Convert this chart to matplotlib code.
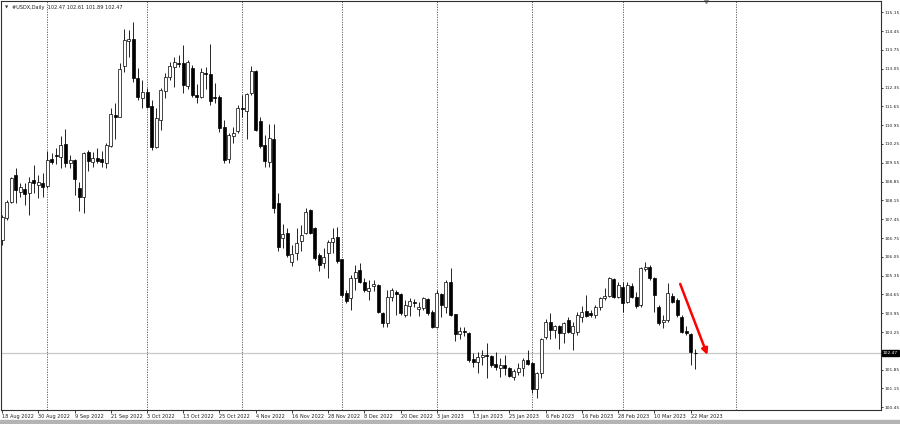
import matplotlib
matplotlib.use("Agg")
import matplotlib.pyplot as plt
from matplotlib.patches import Rectangle
from matplotlib.transforms import blended_transform_factory

# daily OHLC of #USDX, 18 Aug 2022 .. 23 Mar 2023 (one value per bar)
opens = [106.68, 107.48, 108.10, 109.09, 108.47, 108.57, 108.41, 108.91, 108.73, 108.81,
         108.70, 109.68, 109.84, 109.78, 110.24, 109.53, 109.65, 108.60, 108.29, 109.94,
         109.59, 109.71, 109.68, 109.55, 110.17, 111.33, 111.24, 113.15, 114.10, 114.14,
         112.72, 111.95, 112.20, 111.66, 110.15, 111.16, 112.23, 112.75, 113.13, 113.28,
         113.25, 112.42, 113.06, 112.07, 112.01, 112.88, 112.85, 112.01, 112.01, 110.89,
         109.68, 110.55, 110.73, 111.59, 111.49, 112.16, 112.98, 111.12, 110.21, 109.59,
         110.43, 108.04, 106.74, 106.95, 105.87, 106.20, 106.65, 106.92, 107.79, 107.11,
         106.12, 105.83, 106.20, 106.61, 106.80, 105.96, 104.69, 104.50, 105.25, 105.56,
         105.13, 104.78, 104.98, 105.00, 103.97, 103.60, 104.54, 104.73, 104.66, 103.89,
         104.22, 104.36, 104.10, 104.13, 104.47, 104.01, 103.45, 104.65, 104.19, 105.10,
         103.91, 103.17, 103.30, 103.23, 102.26, 102.15, 102.31, 102.38, 102.36, 102.06,
         101.90, 102.02, 101.92, 101.59, 101.78, 101.90, 102.21, 102.09, 101.12, 101.71,
         103.05, 103.64, 103.33, 103.48, 103.20, 103.70, 103.23, 103.26, 103.82, 104.03,
         103.95, 103.88, 104.17, 104.50, 104.59, 105.21, 104.57, 104.94, 104.38, 104.96,
         104.57, 104.26, 105.58, 105.68, 105.25, 104.17, 103.62, 103.70, 104.59, 104.44,
         103.82, 103.30, 103.18, 102.47]
highs = [107.61, 108.16, 109.03, 109.34, 108.78, 108.78, 109.03, 109.47, 109.10, 109.18,
         110.00, 109.93, 110.09, 110.55, 110.79, 109.84, 109.70, 108.82, 109.96, 110.03,
         109.96, 110.09, 109.99, 110.27, 111.58, 111.79, 113.28, 114.52, 114.50, 114.80,
         113.06, 112.63, 112.32, 111.89, 111.58, 112.32, 112.88, 113.29, 113.50, 113.56,
         113.93, 113.37, 113.19, 112.50, 113.06, 113.10, 113.97, 112.53, 112.07, 111.14,
         110.65, 110.89, 111.70, 112.07, 112.16, 113.15, 113.00, 111.27, 110.58, 110.99,
         110.99, 108.41, 107.27, 107.11, 106.49, 107.11, 107.23, 107.88, 107.82, 107.15,
         106.18, 106.37, 106.68, 107.11, 107.17, 105.98, 104.82, 105.37, 105.75, 105.81,
         105.25, 105.19, 105.20, 105.04, 104.01, 104.82, 104.88, 104.82, 104.69, 104.44,
         104.50, 104.48, 104.38, 104.54, 104.50, 104.07, 104.82, 104.69, 105.19, 105.62,
         103.93, 103.45, 103.45, 103.26, 102.46, 102.52, 102.58, 102.85, 102.40, 102.52,
         102.27, 102.40, 101.96, 101.86, 102.09, 102.27, 102.58, 102.15, 101.77, 103.02,
         103.72, 103.95, 103.51, 103.51, 103.64, 103.82, 103.64, 104.01, 104.22, 104.63,
         104.07, 104.26, 104.57, 104.88, 105.31, 105.25, 105.13, 105.13, 105.13, 105.06,
         104.75, 105.68, 105.87, 105.75, 105.31, 104.26, 103.90, 105.06, 104.69, 104.50,
         103.88, 103.48, 103.20, 102.61]
lows = [106.49, 107.42, 108.04, 108.04, 108.28, 107.98, 107.61, 108.41, 108.25, 108.29,
        108.60, 109.49, 109.50, 109.37, 109.40, 109.34, 108.35, 107.77, 107.67, 109.26,
        109.40, 109.55, 109.40, 109.34, 110.15, 110.43, 111.24, 112.94, 113.50, 112.57,
        111.89, 111.58, 111.58, 110.03, 110.09, 110.77, 111.95, 112.63, 112.38, 113.13,
        112.16, 112.30, 111.99, 111.76, 111.95, 112.30, 111.69, 111.76, 110.71, 109.53,
        109.53, 110.27, 110.65, 111.27, 110.42, 112.07, 110.74, 110.09, 109.40, 109.38,
        107.69, 106.28, 106.37, 106.03, 105.71, 105.93, 106.28, 106.90, 106.90, 105.93,
        105.53, 105.62, 105.25, 106.18, 105.81, 104.54, 104.32, 104.07, 104.82, 105.09,
        104.75, 104.44, 104.79, 103.95, 103.45, 103.45, 104.42, 103.89, 103.89, 103.80,
        103.85, 104.17, 103.85, 104.07, 103.89, 103.39, 103.39, 103.82, 103.95, 103.85,
        102.93, 102.98, 103.10, 102.15, 101.96, 101.74, 102.02, 101.53, 101.96, 101.84,
        101.59, 101.65, 101.57, 101.47, 101.65, 101.61, 102.02, 100.99, 100.78, 101.53,
        102.98, 102.98, 103.02, 102.61, 102.83, 103.20, 102.58, 103.14, 103.64, 103.82,
        103.82, 103.76, 104.07, 104.44, 104.57, 104.50, 104.50, 104.01, 104.32, 104.50,
        104.13, 104.19, 105.53, 105.19, 104.01, 103.51, 103.40, 103.62, 104.32, 103.82,
        103.23, 103.14, 102.02, 101.89]
closes = [107.54, 108.10, 108.97, 108.54, 108.63, 108.39, 108.85, 108.78, 108.83, 108.66,
          109.65, 109.59, 109.80, 110.21, 109.55, 109.65, 108.93, 108.29, 109.93, 109.62,
          109.74, 109.63, 109.59, 110.21, 111.36, 111.27, 113.03, 114.12, 114.14, 112.69,
          111.98, 112.20, 111.64, 110.15, 111.20, 112.26, 112.75, 113.16, 113.31, 113.24,
          112.44, 113.29, 112.07, 112.01, 112.94, 112.84, 111.86, 111.95, 110.83, 109.65,
          110.58, 110.65, 111.60, 111.54, 112.11, 112.98, 110.77, 110.17, 109.63, 110.46,
          107.85, 106.40, 106.90, 106.12, 106.15, 106.58, 106.86, 107.73, 106.92, 105.99,
          105.75, 106.06, 106.61, 106.74, 105.91, 104.63, 104.42, 105.25, 105.50, 105.13,
          104.82, 104.90, 105.02, 104.01, 103.60, 104.57, 104.82, 104.66, 103.95, 104.26,
          104.39, 104.32, 104.20, 104.50, 103.95, 103.45, 104.69, 104.26, 105.10, 103.89,
          103.18, 103.29, 103.27, 102.21, 102.15, 102.33, 102.38, 102.35, 102.02, 101.96,
          102.02, 101.90, 101.61, 101.81, 101.90, 102.21, 102.06, 101.12, 101.71, 102.98,
          103.64, 103.33, 103.48, 103.20, 103.57, 103.26, 103.48, 103.88, 104.01, 103.86,
          103.88, 104.17, 104.50, 104.59, 105.25, 104.57, 105.00, 104.34, 105.00, 104.57,
          104.22, 105.62, 105.68, 105.25, 104.63, 103.60, 103.68, 104.69, 104.38, 103.88,
          103.26, 103.20, 102.52, 102.47]

date_labels = ["18 Aug 2022", "30 Aug 2022", "9 Sep 2022", "21 Sep 2022", "3 Oct 2022",
               "13 Oct 2022", "25 Oct 2022", "4 Nov 2022", "16 Nov 2022", "28 Nov 2022",
               "8 Dec 2022", "20 Dec 2022", "3 Jan 2023", "13 Jan 2023", "25 Jan 2023",
               "6 Feb 2023", "16 Feb 2023", "28 Feb 2023", "10 Mar 2023", "22 Mar 2023"]
label_step = 8
price_ticks = [115.15, 114.45, 113.75, 113.05, 112.35, 111.65, 110.95, 110.25, 109.55,
               108.85, 108.15, 107.45, 106.75, 106.05, 105.35, 104.65, 103.95, 103.25,
               101.85, 101.15, 100.45]
separators = [10, 32, 53, 75, 96, 117, 137, 162]   # month separators (bar index)
last_price = 102.47
arrow_start = (149.7, 105.04)
arrow_end = (155.7, 102.40)
shift_bar = 155.5

fig = plt.figure(figsize=(9, 4.24), dpi=100)
ax = fig.add_axes([1 / 900, 14 / 424, 880 / 900, 409 / 424])
ax.set_xlim(-0.234, 194.03)
ax.set_ylim(100.349, 115.571)

for s in separators:
    ax.axvline(s, color="#505050", lw=0.6, ls=(0, (1.5, 1.5)), zorder=1)

ax.axhline(last_price, color="#c8c8c8", lw=0.9, zorder=1)

w = 0.66
for i in range(len(opens)):
    o, h, l, c = opens[i], highs[i], lows[i], closes[i]
    ax.vlines(i, l, h, color="black", lw=0.6, zorder=2)
    lo, hi = min(o, c), max(o, c)
    if hi - lo < 0.03:
        ax.hlines(o, i - w / 2, i + w / 2, color="black", lw=0.8, zorder=3)
        continue
    face = "white" if c >= o else "black"
    ax.add_patch(Rectangle((i - w / 2, lo), w, hi - lo, facecolor=face,
                           edgecolor="black", lw=0.5, zorder=3))

ax.annotate("", xy=arrow_end, xytext=arrow_start,
            arrowprops=dict(arrowstyle="-|>", color="red", lw=1.8,
                            mutation_scale=9, shrinkA=0, shrinkB=0), zorder=5)

# axes styling, MT4-like
for sp in ax.spines.values():
    sp.set_color("#303030")
    sp.set_linewidth(0.8)
ax.yaxis.tick_right()
ax.set_yticks(price_ticks)
ax.set_yticklabels(["%.2f" % p for p in price_ticks])
ax.tick_params(axis="y", direction="out", length=1.5, width=0.6, pad=0.8,
               labelsize=3.2, colors="#202020")
ax.set_xticks(range(0, len(opens), label_step))
ax.set_xticklabels(date_labels, ha="left")
ax.tick_params(axis="x", direction="out", length=2, width=0.6, pad=1,
               labelsize=3.6, colors="#202020")

trans = blended_transform_factory(ax.transAxes, ax.transData)
ax.text(1.002, last_price, "%.2f" % last_price, transform=trans, fontsize=3.2,
        color="white", va="center", ha="left",
        bbox=dict(boxstyle="square,pad=0.2", fc="black", ec="black"), zorder=6)

ax.text(0.004, 0.985, "\u25bc", transform=ax.transAxes, fontsize=3, va="center",
        ha="left", color="#303030")
ax.text(0.012, 0.985, "#USDX,Daily  %.2f %.2f %.2f %.2f" % (opens[-1], highs[-1], lows[-1], closes[-1]),
        transform=ax.transAxes, fontsize=3.6, va="center", ha="left", color="#202020")

ax.plot([shift_bar], [1.0], marker="v", ms=3, color="#909090",
        transform=blended_transform_factory(ax.transData, ax.transAxes), clip_on=False)

fig.patches.append(Rectangle((0, 0), 1, 4 / 424, transform=fig.transFigure,
                             color="#b4b4b4", zorder=0))

fig.savefig("out.png", dpi=100, facecolor="white")
